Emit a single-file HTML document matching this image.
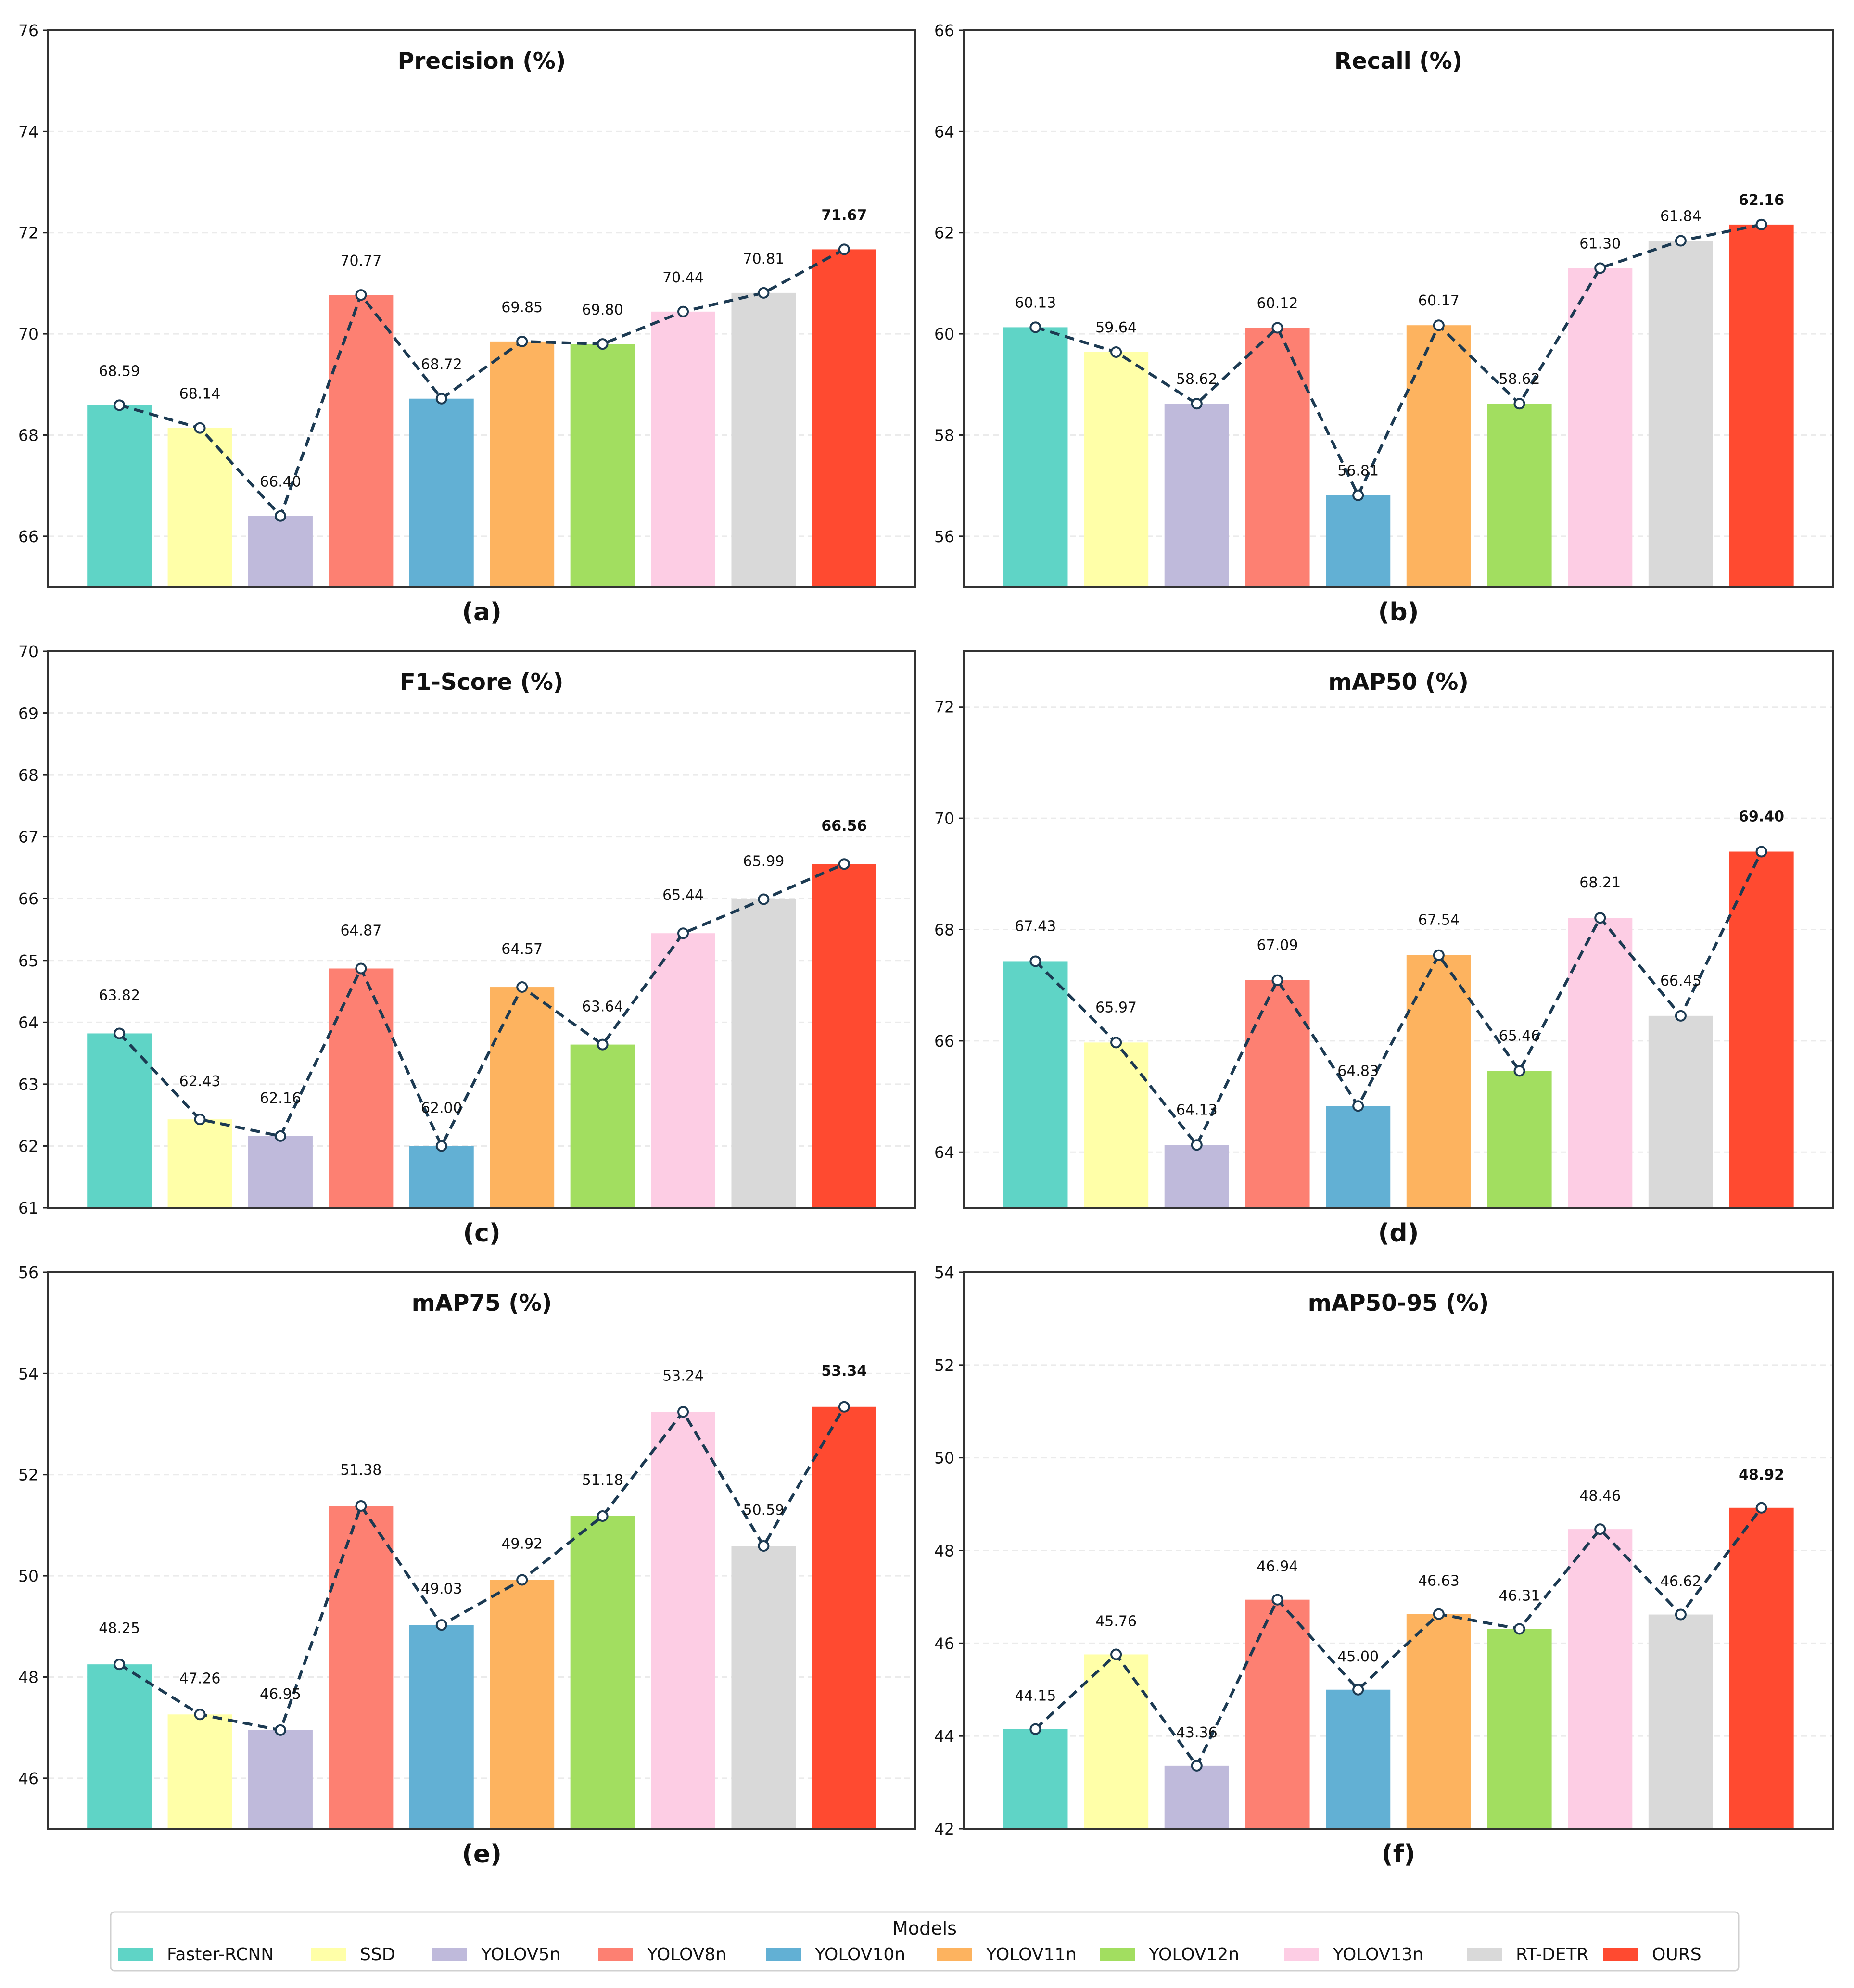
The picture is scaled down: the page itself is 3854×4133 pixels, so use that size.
<!DOCTYPE html>
<html><head><meta charset="utf-8"><style>
html,body{margin:0;padding:0;background:#fff;}
svg{display:block;font-family:"DejaVu Sans","Liberation Sans",sans-serif;}
</style></head><body>
<svg id="fig" width="3854" height="4133" viewBox="0 0 3854 4133" xmlns="http://www.w3.org/2000/svg">
<rect width="3854" height="4133" fill="#fff"/>
<g id="panels"></g>
<g id="legend">
  <rect x="230" y="3975" width="3384" height="122" rx="8" fill="#fff" stroke="#d0d0d0" stroke-width="3"/>
  <text x="1922" y="4022" font-size="38" text-anchor="middle" fill="#111">Models</text>
</g>
</svg>
<script>
const models = ["Faster-RCNN","SSD","YOLOV5n","YOLOV8n","YOLOV10n","YOLOV11n","YOLOV12n","YOLOV13n","RT-DETR","OURS"];
const colors = ["#5fd4c6","#ffffa8","#bfbadb","#fd8072","#62b0d4","#fdb35f","#a2de60","#fdcde4","#d9d9d9","#ff4a30"];
const precision = [68.59,68.14,66.40,70.77,68.72,69.85,69.80,70.44,70.81,71.67];
const recall = [60.13,59.64,58.62,60.12,56.81,60.17,58.62,61.30,61.84,62.16];
const f1 = [63.82,62.43,62.16,64.87,62.00,64.57,63.64,65.44,65.99,66.56];
const map50 = [67.43,65.97,64.13,67.09,64.83,67.54,65.46,68.21,66.45,69.40];
const map75 = [48.25,47.26,46.95,51.38,49.03,49.92,51.18,53.24,50.59,53.34];
const map5095 = [44.15,45.76,43.36,46.94,45.00,46.63,46.31,48.46,46.62,48.92];
const titles = ["Precision (%)","Recall (%)","F1-Score (%)","mAP50 (%)","mAP75 (%)","mAP50-95 (%)"];
const subLabels = ["(a)","(b)","(c)","(d)","(e)","(f)"];
const yMins = [65,55,61,63,45,42];
const yMaxs = [76,66,70,73,56,54];
const ticksA = [66,68,70,72,74,76];
const ticksB = [56,58,60,62,64,66];
const ticksC = [61,62,63,64,65,66,67,68,69,70];
const ticksD = [64,66,68,70,72];
const ticksE = [46,48,50,52,54,56];
const ticksF = [42,44,46,48,50,52,54];

const series=[precision,recall,f1,map50,map75,map5095];
const tickSets=[ticksA,ticksB,ticksC,ticksD,ticksE,ticksF];
const labelOff=[72,52,80,74,76,70];
const colX=[[100,1903],[2004,3810]];
const rowY=[[63,1220],[1354,2511],[2645,3802]];
const NS="http://www.w3.org/2000/svg";
const root=document.getElementById('panels');
function mk(tag,attrs,parent){const e=document.createElementNS(NS,tag);for(const k in attrs)e.setAttribute(k,attrs[k]);parent.appendChild(e);return e;}

series.forEach((vals,p)=>{
  const [L,R]=colX[p%2]; const [T,B]=rowY[Math.floor(p/2)];
  const g=mk('g',{},root);
  
  
  const xMin=-0.885,xMax=9.885;
  const xs=i=>L+(i-xMin)/(xMax-xMin)*(R-L);
  const ys=v=>B-(v-yMins[p])/(yMaxs[p]-yMins[p])*(B-T);
  const step=(R-L)/(xMax-xMin);
  tickSets[p].forEach(t=>{
    const y=ys(t);
    if(t>yMins[p]&&t<yMaxs[p]){
      const gl=mk('line',{x1:L,x2:R,y1:y,y2:y,stroke:'#ebebeb','stroke-width':3,'stroke-dasharray':'12 8'},g);
      
      
    }
    mk('line',{x1:L-11,x2:L,y1:y,y2:y,stroke:'#222','stroke-width':3},g);
    const tl=mk('text',{x:L-20,y:y+12,'font-size':33,'text-anchor':'end',fill:'#111'},g);
    tl.textContent=t;
    
    
  });
  vals.forEach((v,i)=>{
    const bw=step*0.8, x=xs(i)-bw/2, y=ys(v);
    const r=mk('rect',{x:x,y:y,width:bw,height:B-y,fill:colors[i]},g);
    
    
  });
  const pts=vals.map((v,i)=>xs(i)+','+ys(v)).join(' ');
  const pl=mk('polyline',{points:pts,fill:'none',stroke:'#1c3a52','stroke-width':6,'stroke-dasharray':'20 12'},g);
  
  
  vals.forEach((v,i)=>{
    const c=mk('circle',{cx:xs(i),cy:ys(v),r:10,fill:'#fff',stroke:'#1c3a52','stroke-width':4},g);
    
    
    const best=i===vals.length-1;
    const t=mk('text',{x:xs(i),y:ys(v)-labelOff[p]+11,'font-size':30,'text-anchor':'middle',fill:'#111','font-weight':best?'bold':'normal'},g);
    t.textContent=v.toFixed(2);
    
    
  });
  mk('rect',{x:L,y:T,width:R-L,height:B-T,fill:'none',stroke:'#333','stroke-width':4},g);
  const tt=mk('text',{x:(L+R)/2,y:T+80,'font-size':47,'font-weight':'bold','text-anchor':'middle',fill:'#111'},g);
  tt.textContent=titles[p];
  
  
  const sl=mk('text',{x:(L+R)/2,y:B+70,'font-size':52,'font-weight':'bold','text-anchor':'middle',fill:'#111'},g);
  sl.textContent=subLabels[p];
  
  
});

const lg=document.getElementById('legend');
const legX=[245,646,898,1243,1592,1948,2286,2669,3049,3332];
models.forEach((m,i)=>{
  const e=mk('g',{},lg);
  
  
  mk('rect',{x:legX[i],y:4049,width:73,height:27,fill:colors[i]},e);
  const t=mk('text',{x:legX[i]+102,y:4075,'font-size':36,fill:'#111'},e);
  t.textContent=m;
});
</script>
</body></html>
